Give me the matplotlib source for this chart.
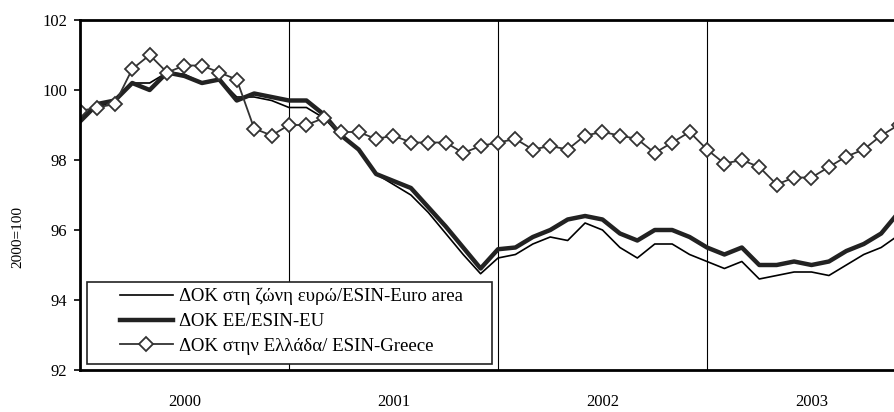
import numpy as np
import matplotlib.pyplot as plt
from matplotlib.patches import Rectangle

plt.rcParams['font.family'] = ['Liberation Serif', 'DejaVu Serif']

# Monthly index values, Jan 2000 .. Dec 2003 (2000=100)
years = ['2000', '2001', '2002', '2003']
euro_area = [99.2, 99.5, 99.7, 100.2, 100.2, 100.5, 100.45, 100.2, 100.3, 99.8, 99.8, 99.7,
             99.5, 99.5, 99.2, 98.7, 98.3, 97.6, 97.3, 97.0, 96.5, 95.9, 95.3, 94.75,
             95.2, 95.3, 95.6, 95.8, 95.7, 96.2, 96.0, 95.5, 95.2, 95.6, 95.6, 95.3,
             95.1, 94.9, 95.1, 94.6, 94.7, 94.8, 94.8, 94.7, 95.0, 95.3, 95.5, 95.85]
eu = [99.1, 99.6, 99.7, 100.2, 100.0, 100.5, 100.4, 100.2, 100.3, 99.7, 99.9, 99.8,
      99.7, 99.7, 99.3, 98.7, 98.3, 97.6, 97.4, 97.2, 96.65, 96.1, 95.5, 94.9,
      95.45, 95.5, 95.8, 96.0, 96.3, 96.4, 96.3, 95.9, 95.7, 96.0, 96.0, 95.8,
      95.5, 95.3, 95.5, 95.0, 95.0, 95.1, 95.0, 95.1, 95.4, 95.6, 95.9, 96.5]
greece = [99.4, 99.5, 99.6, 100.6, 101.0, 100.5, 100.7, 100.7, 100.5, 100.3, 98.9, 98.7,
          99.0, 99.0, 99.2, 98.8, 98.8, 98.6, 98.7, 98.5, 98.5, 98.5, 98.2, 98.4,
          98.5, 98.6, 98.3, 98.4, 98.3, 98.7, 98.8, 98.7, 98.6, 98.2, 98.5, 98.8,
          98.3, 97.9, 98.0, 97.8, 97.3, 97.5, 97.5, 97.8, 98.1, 98.3, 98.7, 99.0]
labels = ['ΔΟΚ στη ζώνη ευρώ/ESIN-Euro area', 'ΔΟΚ ΕΕ/ESIN-EU', 'ΔΟΚ στην Ελλάδα/ ESIN-Greece']

months = np.arange(len(greece))

fig = plt.figure(figsize=(8.95, 4.12), dpi=100)
# axes runs a little past the right edge, as in the source picture
ax = fig.add_axes([80 / 895, 42 / 412, 836 / 895, 350 / 412])

l1, = ax.plot(months, euro_area, color='black', linewidth=1.2)
l2, = ax.plot(months, eu, color='#222222', linewidth=3.2)
l3, = ax.plot(months, greece, color='#333333', linewidth=1.3, marker='D',
              markersize=7, markerfacecolor='white', markeredgecolor='#333333',
              markeredgewidth=1.3)

# year separators
for k in range(1, len(years)):
    ax.axvline(12 * k, color='black', linewidth=0.8, zorder=0)

ax.set_xlim(0, 48)
ax.set_ylim(92, 102)
ax.set_yticks(np.arange(92, 103, 2))
ax.set_xticks([12 * k + 6 for k in range(len(years))])
ax.set_xticklabels(years)
ax.tick_params(axis='x', length=0, pad=17, labelsize=12)
ax.tick_params(axis='y', length=4, width=1.2, direction='out', labelsize=12, pad=5)

for s in ['left', 'bottom', 'top']:
    ax.spines[s].set_linewidth(2)
ax.spines['right'].set_visible(False)

fig.text(18 / 895, 1 - 237 / 412, '2000=100', rotation=90, ha='center', va='center',
         fontsize=11)

# legend box
box = Rectangle((7 / 836, 6 / 350), 405 / 836, 82 / 350, transform=ax.transAxes,
                facecolor='white', edgecolor='#222222', linewidth=1.2, zorder=4)
ax.add_patch(box)
leg = ax.legend([l1, l2, l3], labels, loc='upper left',
                bbox_to_anchor=(40 / 836, 1 - 268 / 350), frameon=False,
                fontsize=13.6, handlelength=2.8, handletextpad=0.3, labelspacing=0.4,
                borderpad=0, borderaxespad=0)
leg.set_zorder(5)

fig.savefig('out.png', dpi=100)
